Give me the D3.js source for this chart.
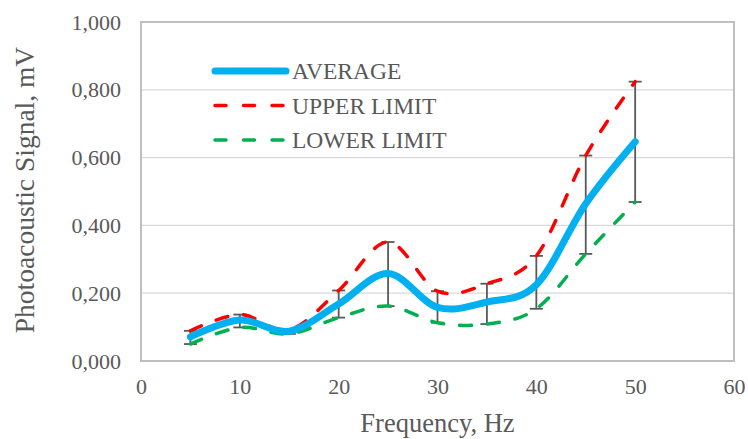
<!DOCTYPE html>
<html>
<head>
<meta charset="utf-8">
<script src="https://cdn.jsdelivr.net/npm/d3@7"></script>
<style>
  body { margin: 0; background: #fff; }
  text { font-family: "Liberation Serif", "Times New Roman", serif; fill: #595959; }
</style>
</head>
<body>
<svg id="chart" width="748" height="439"></svg>
<script>
var freq    = [5, 10, 15, 20, 25, 30, 35, 40, 45, 50];
var average = [0.071, 0.121, 0.088, 0.168, 0.258, 0.158, 0.174, 0.225, 0.464, 0.647];
var upper   = [0.089, 0.137, 0.092, 0.208, 0.351, 0.206, 0.228, 0.310, 0.606, 0.824];
var lower   = [0.050, 0.099, 0.080, 0.128, 0.162, 0.113, 0.109, 0.154, 0.316, 0.469];
var xTicks  = [0, 10, 20, 30, 40, 50, 60];
var yTicks  = [0, 0.2, 0.4, 0.6, 0.8, 1.0];
var legendNames = ["AVERAGE", "UPPER LIMIT", "LOWER LIMIT"];

var svg = d3.select("#chart");
var pLeft = 141, pRight = 734, pTop = 22, pBottom = 361;

var x = d3.scaleLinear().domain([0, 60]).range([pLeft, pRight]);
var y = d3.scaleLinear().domain([0, 1]).range([pBottom, pTop]);

// number format like "0,200"
function fmt(v) { return d3.format(".3f")(v).replace(".", ","); }

// gridlines
svg.append("g").selectAll("line").data(yTicks.slice(1, 5))
  .enter().append("line")
  .attr("x1", pLeft).attr("x2", pRight)
  .attr("y1", function(d) { return y(d); })
  .attr("y2", function(d) { return y(d); })
  .attr("stroke", "#d9d9d9")
  .attr("stroke-width", 1.3);

// frame
svg.append("rect")
  .attr("x", pLeft).attr("y", pTop)
  .attr("width", pRight - pLeft).attr("height", pBottom - pTop)
  .attr("fill", "none")
  .attr("stroke", "#bfbfbf")
  .attr("stroke-width", 2);

// y axis
var yAxis = svg.append("g")
  .attr("transform", "translate(" + (pLeft - 20) + ",0)")
  .call(d3.axisLeft(y).tickValues(yTicks).tickFormat(fmt).tickSize(0).tickPadding(0));
yAxis.select(".domain").remove();
yAxis.selectAll("text")
  .attr("fill", "#595959")
  .style("font-size", "22px")
  .style("font-family", "Liberation Serif");

// x axis
var xAxis = svg.append("g")
  .attr("transform", "translate(0," + pBottom + ")")
  .call(d3.axisBottom(x).tickValues(xTicks).tickSize(0).tickPadding(17));
xAxis.select(".domain").remove();
xAxis.selectAll("text")
  .attr("fill", "#595959")
  .style("font-size", "22px")
  .style("font-family", "Liberation Serif");

// axis titles
svg.append("text")
  .attr("x", (pLeft + pRight) / 2)
  .attr("y", 432)
  .attr("text-anchor", "middle")
  .style("font-size", "26.5px")
  .text("Frequency, Hz");

svg.append("text")
  .attr("transform", "translate(34,190) rotate(-90)")
  .attr("text-anchor", "middle")
  .style("font-size", "27.5px")
  .text("Photoacoustic Signal, mV");

// error bars
var eb = svg.append("g");
eb.selectAll("line.bar").data(freq)
  .enter().append("line")
  .attr("class", "bar")
  .attr("x1", function(d) { return x(d); })
  .attr("x2", function(d) { return x(d); })
  .attr("y1", function(d, i) { return y(upper[i]); })
  .attr("y2", function(d, i) { return y(lower[i]); })
  .attr("stroke", "#595959")
  .attr("stroke-width", 1.8);
[upper, lower].forEach(function(arr) {
  eb.append("g").selectAll("line").data(freq)
    .enter().append("line")
    .attr("x1", function(d) { return x(d) - 6.5; })
    .attr("x2", function(d) { return x(d) + 6.5; })
    .attr("y1", function(d, i) { return y(arr[i]); })
    .attr("y2", function(d, i) { return y(arr[i]); })
    .attr("stroke", "#595959")
    .attr("stroke-width", 1.8);
});

// series
var series = [
  { vals: lower,   color: "#00b050", width: 3.5, dash: "12,16" },
  { vals: upper,   color: "#ff0000", width: 3.5, dash: "12,16" },
  { vals: average, color: "#00b0f0", width: 7,   dash: null }
];

var line = d3.line()
  .x(function(d) { return x(d[0]); })
  .y(function(d) { return y(d[1]); })
  .curve(d3.curveCatmullRom.alpha(0));

series.forEach(function(s) {
  svg.append("path")
    .datum(d3.zip(freq, s.vals))
    .attr("d", line)
    .attr("fill", "none")
    .attr("stroke", s.color)
    .attr("stroke-width", s.width)
    .attr("stroke-linecap", "round")
    .attr("stroke-linejoin", "round")
    .attr("stroke-dasharray", s.dash);
});

// legend
var leg = [series[2], series[1], series[0]];
var lg = svg.append("g");
leg.forEach(function(s, i) {
  var ly = 71 + i * 34.5;
  lg.append("line")
    .attr("x1", 215).attr("x2", 286)
    .attr("y1", ly).attr("y2", ly)
    .attr("stroke", s.color)
    .attr("stroke-width", s.width)
    .attr("stroke-linecap", "round")
    .attr("stroke-dasharray", s.dash ? "11,17.5" : null);
  lg.append("text")
    .attr("x", 292).attr("y", ly + 8)
    .style("font-size", "23.5px")
    .text(legendNames[i]);
});
</script>
</body>
</html>
